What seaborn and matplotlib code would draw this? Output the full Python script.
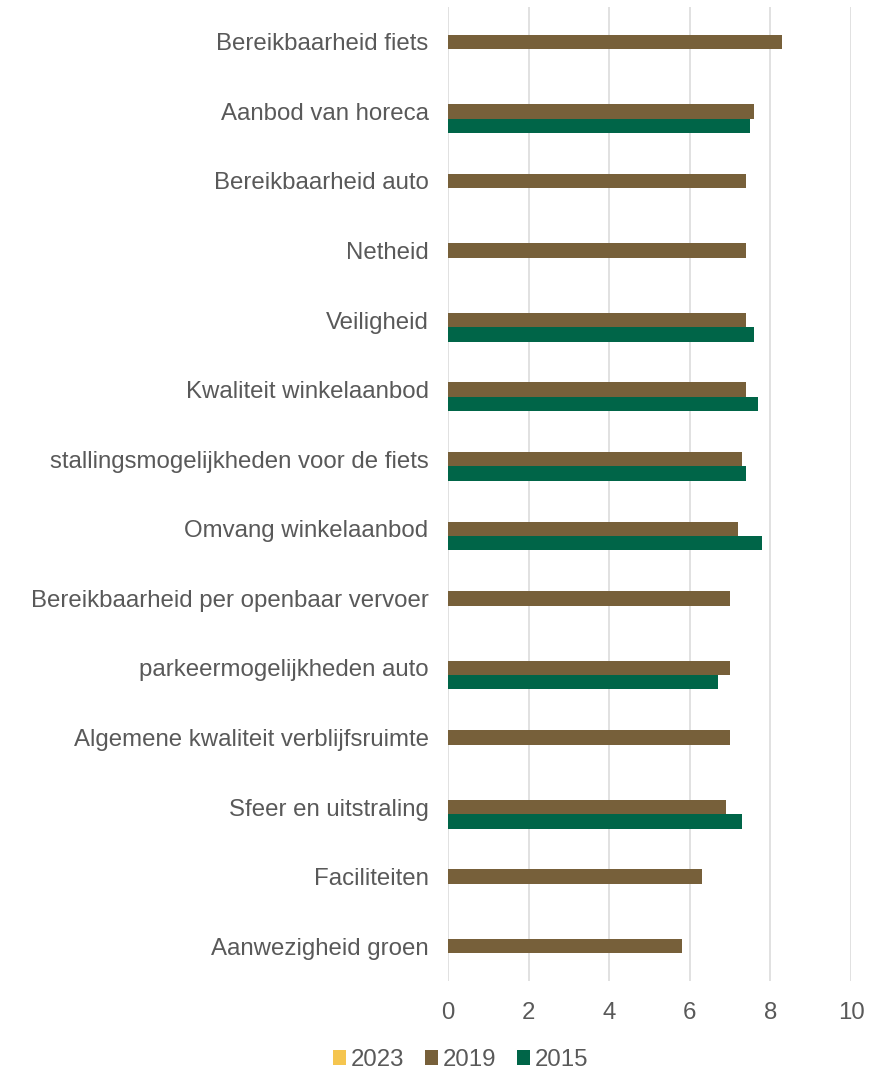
import matplotlib
matplotlib.use("Agg")
import matplotlib.pyplot as plt
import seaborn as sns
import pandas as pd
import numpy as np
from matplotlib.patches import Patch

categories = [
    "Bereikbaarheid fiets",
    "Aanbod van horeca",
    "Bereikbaarheid auto",
    "Netheid",
    "Veiligheid",
    "Kwaliteit winkelaanbod",
    "stallingsmogelijkheden voor de fiets",
    "Omvang winkelaanbod",
    "Bereikbaarheid per openbaar vervoer",
    "parkeermogelijkheden auto",
    "Algemene kwaliteit verblijfsruimte",
    "Sfeer en uitstraling",
    "Faciliteiten",
    "Aanwezigheid groen",
]
values_2023 = [np.nan] * 14
values_2019 = [8.3, 7.6, 7.4, 7.4, 7.4, 7.4, 7.3, 7.2, 7.0, 7.0, 7.0, 6.9, 6.3, 5.8]
values_2015 = [np.nan, 7.5, np.nan, np.nan, 7.6, 7.7, 7.4, 7.8, np.nan, 6.7, np.nan, 7.3, np.nan, np.nan]
series = ["2023", "2019", "2015"]
colors = ["#F5C54F", "#77603A", "#006548"]
xticks = [0, 2, 4, 6, 8, 10]

rows = []
for s, vals in zip(series, [values_2023, values_2019, values_2015]):
    for c, v in zip(categories, vals):
        rows.append({"Categorie": c, "Jaar": s, "Score": v})
df = pd.DataFrame(rows)

sns.set_theme(style="white")
plt.rcParams["font.family"] = ["Liberation Sans", "DejaVu Sans"]

fig = plt.figure(figsize=(8.95, 10.72), dpi=100)
ax = fig.add_axes([448 / 895, 1 - 981 / 1072, (851 - 448) / 895, (981 - 7) / 1072])

sns.barplot(data=df, x="Score", y="Categorie", hue="Jaar", order=categories,
            hue_order=series, palette=dict(zip(series, colors)), orient="h",
            width=0.62, ax=ax, legend=False, errorbar=None, saturation=1,
            linewidth=0)

ax.set_xlim(0, 10)
ax.set_ylim(len(categories) - 0.5, -0.5)
ax.set_xticks(xticks)
ax.set_xlabel("")
ax.set_ylabel("")
for sp in ax.spines.values():
    sp.set_visible(False)
ax.grid(axis="x", color="#D9D9D9", linewidth=1.1)
ax.set_axisbelow(True)
ax.tick_params(axis="both", length=0, colors="#595959", labelsize=17.3)
ax.tick_params(axis="y", pad=14)
ax.tick_params(axis="x", pad=15)

handles = [Patch(facecolor=c, edgecolor="none", label=s) for s, c in zip(series, colors)]
fig.legend(handles=handles, loc="center", bbox_to_anchor=(0.5 + 13 / 895, 1 - 1060 / 1072),
           ncol=3, frameon=False, fontsize=17.3, handlelength=0.55, handleheight=0.55,
           handletextpad=0.2, columnspacing=0.85, labelcolor="#595959")

fig.savefig("out.png", dpi=100)
